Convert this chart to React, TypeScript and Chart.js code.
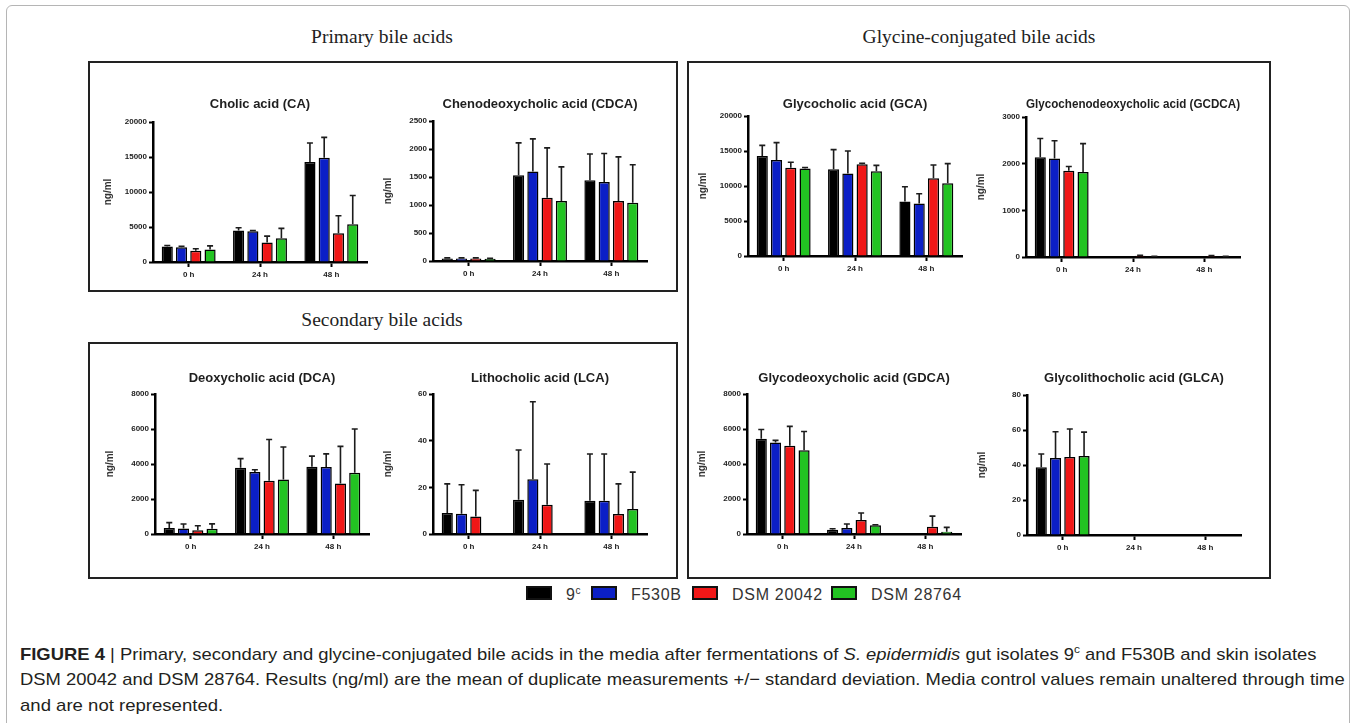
import React, { useEffect, useLayoutEffect, useRef, useState } from 'react';
import { Chart, registerables } from 'chart.js';

Chart.register(...registerables);

// ---------------- data ----------------
const timePoints = ['0 h', '24 h', '48 h'];
const strainNames = ['9c', 'F530B', 'DSM 20042', 'DSM 28764'];
const yAxisTitle = 'ng/ml';

// rows: 9c, F530B, DSM 20042, DSM 28764 ; columns: 0 h, 24 h, 48 h
const caMeans = [[2200, 4500, 14300], [2100, 4400, 14900], [1600, 2800, 4100], [1800, 3400, 5400]];
const caSds = [[150, 400, 2700], [150, 100, 2900], [300, 900, 2500], [500, 1400, 4100]];

const cdcaMeans = [[45, 1530, 1440], [45, 1600, 1410], [45, 1130, 1070], [40, 1070, 1040]];
const cdcaSds = [[10, 580, 470], [10, 580, 510], [10, 890, 790], [10, 610, 680]];

const dcaMeans = [[350, 3780, 3850], [320, 3550, 3830], [220, 3040, 2890], [300, 3120, 3500]];
const dcaSds = [[300, 530, 600], [250, 120, 750], [250, 2360, 2120], [280, 1850, 2500]];

const lcaMeans = [[9, 14.7, 14.2], [8.7, 23.5, 14.2], [7.5, 12.5, 8.6], [0, 0, 10.7]];
const lcaSds = [[12.5, 21.3, 20.1], [12.4, 33.2, 20.1], [11.2, 17.5, 12.9], [0, 0, 15.8]];

const gcaMeans = [[14300, 12400, 7800], [13700, 11800, 7500], [12600, 13100, 11100], [12500, 12100, 10400]];
const gcaSds = [[1500, 2800, 2100], [2500, 3200, 1400], [800, 150, 1900], [150, 850, 2800]];

const gcdcaMeans = [[2140, 0, 0], [2110, 0, 0], [1850, 25, 20], [1820, 10, 8]];
const gcdcaSds = [[400, 0, 0], [380, 0, 0], [90, 12, 10], [610, 5, 5]];

const gdcaMeans = [[5450, 250, 0], [5230, 350, 0], [5050, 800, 420], [4780, 500, 130]];
const gdcaSds = [[520, 50, 0], [120, 220, 0], [1100, 400, 600], [1080, 30, 250]];

const glcaMeans = [[38.7, 0.5, 0], [44, 0, 0], [44.6, 0, 0], [45.2, 0, 0]];
const glcaSds = [[7.6, 0, 0], [15, 0, 0], [16, 0, 0], [13.6, 0, 0]];

// ---------------- styles / layout ----------------
const strainColors = ['#000000', '#0b1fc6', '#f01717', '#22c322'];
const SANS = '"Liberation Sans", Arial, Helvetica, sans-serif';
const SERIF = '"Liberation Serif", "Times New Roman", serif';

const PW = 214; // plot width
const PH = 140; // plot height
const ML = 60;
const MR = 60;
const MT = 40;
const MB = 30;
const TITLE_SIZE = 13;

const panels = [
  { title: 'Cholic acid (CA)', means: caMeans, sds: caSds, max: 20000, step: 5000, x: 153, y: 122, titleY: 104 },
  { title: 'Chenodeoxycholic acid (CDCA)', means: cdcaMeans, sds: cdcaSds, max: 2500, step: 500, x: 433, y: 121, titleY: 104 },
  { title: 'Deoxycholic acid (DCA)', means: dcaMeans, sds: dcaSds, max: 8000, step: 2000, x: 155, y: 394, titleY: 378 },
  { title: 'Lithocholic acid (LCA)', means: lcaMeans, sds: lcaSds, max: 60, step: 20, x: 433, y: 394, titleY: 378 },
  { title: 'Glycocholic acid (GCA)', means: gcaMeans, sds: gcaSds, max: 20000, step: 5000, x: 748, y: 116, titleY: 104 },
  { title: 'Glycochenodeoxycholic acid (GCDCA)', means: gcdcaMeans, sds: gcdcaSds, max: 3000, step: 1000, x: 1026, y: 117, titleY: 104 },
  { title: 'Glycodeoxycholic acid (GDCA)', means: gdcaMeans, sds: gdcaSds, max: 8000, step: 2000, x: 747, y: 394, titleY: 378 },
  { title: 'Glycolithocholic acid (GLCA)', means: glcaMeans, sds: glcaSds, max: 80, step: 20, x: 1027, y: 395, titleY: 378 },
];

const errorBarPlugin = {
  id: 'errorBars',
  afterDatasetsDraw(chart: any) {
    const ctx = chart.ctx;
    const yScale = chart.scales.y;
    ctx.save();
    ctx.strokeStyle = '#1c1c1c';
    ctx.lineWidth = 1.6;
    chart.data.datasets.forEach((ds: any, i: number) => {
      const meta = chart.getDatasetMeta(i);
      meta.data.forEach((bar: any, j: number) => {
        const sd = ds.errors[j];
        if (!sd) return;
        const yTop = yScale.getPixelForValue(ds.data[j] + sd);
        ctx.beginPath();
        ctx.moveTo(bar.x, bar.y);
        ctx.lineTo(bar.x, yTop);
        ctx.moveTo(bar.x - 3, yTop);
        ctx.lineTo(bar.x + 3, yTop);
        ctx.stroke();
      });
    });
    ctx.restore();
  },
};

function BarPanel({ spec }: { spec: any }) {
  const ref = useRef<HTMLCanvasElement>(null);
  const W = ML + PW + MR;
  const H = MT + PH + MB;
  useEffect(() => {
    if (!ref.current) return;
    const lh = TITLE_SIZE * 1.2;
    const canvasTop = spec.y - MT;
    const padTop = spec.titleY - canvasTop - lh / 2;
    const padBottom = MT - lh - padTop;
    const tickFont = { family: SANS, size: 8, weight: 'bold' as const };
    const chart = new Chart(ref.current, {
      type: 'bar',
      data: {
        labels: timePoints,
        datasets: strainNames.map((name, i) => ({
          label: name,
          data: spec.means[i],
          errors: spec.sds[i],
          backgroundColor: strainColors[i],
          borderColor: '#000',
          borderWidth: 1.5,
          categoryPercentage: 0.8,
          barPercentage: 0.78,
        })) as any,
      },
      options: {
        responsive: false,
        animation: false,
        devicePixelRatio: 1,
        layout: { padding: { left: 0, right: MR, top: 0, bottom: 0 } },
        plugins: {
          legend: { display: false },
          tooltip: { enabled: false },
          title: {
            display: true,
            text: spec.title,
            fullSize: false,
            color: '#1e1e1e',
            font: { family: SANS, size: TITLE_SIZE, weight: 'bold' },
            padding: { top: padTop, bottom: padBottom },
          },
        },
        scales: {
          x: {
            type: 'category',
            offset: true,
            grid: { offset: false, drawOnChartArea: false, drawTicks: true, tickLength: 5, tickColor: '#000', tickWidth: 2 },
            border: { display: true, color: '#000', width: 2.5 },
            ticks: { font: tickFont, color: '#222', padding: 3, maxRotation: 0, autoSkip: false },
            afterFit: (s: any) => { s.height = MB; },
          },
          y: {
            min: 0,
            max: spec.max,
            grid: { drawOnChartArea: false, drawTicks: true, tickLength: 4, tickColor: '#000', tickWidth: 2 },
            border: { display: true, color: '#000', width: 2.5 },
            ticks: { stepSize: spec.step, font: tickFont, color: '#222', padding: 2, callback: (v: any) => String(v) },
            title: { display: true, text: yAxisTitle, color: '#333', font: { family: SANS, size: 10, weight: 'bold' }, padding: { top: 9, bottom: 0 } },
            afterFit: (s: any) => { s.width = ML; },
          },
        },
      } as any,
      plugins: [errorBarPlugin],
    });
    return () => chart.destroy();
  }, [spec]);
  return (
    <canvas
      ref={ref}
      width={W}
      height={H}
      style={{ position: 'absolute', left: spec.x - ML, top: spec.y - MT, width: W, height: H }}
    />
  );
}

function FitLine({ target, top, children }: { target: number; top: number; children: any }) {
  const ref = useRef<HTMLSpanElement>(null);
  const [sx, setSx] = useState(1);
  useLayoutEffect(() => {
    if (ref.current) {
      const w = ref.current.offsetWidth;
      if (w > 0) setSx(target / w);
    }
  }, [target]);
  return (
    <span
      ref={ref}
      style={{
        position: 'absolute', left: 20, top, whiteSpace: 'nowrap', display: 'inline-block',
        transform: `scaleX(${sx})`, transformOrigin: '0 0', fontSize: 17, lineHeight: '25px', color: '#231f20',
        fontFamily: SANS,
      }}
    >
      {children}
    </span>
  );
}

const legendLefts = [526, 591, 692, 831];

function strainLabel(name: string) {
  if (name === '9c') return <>9<sup style={{ fontSize: 10, lineHeight: 0, verticalAlign: 6 }}>c</sup></>;
  return name;
}

function Heading({ text, cx, baseline }: { text: string; cx: number; baseline: number }) {
  const fs = 19.5;
  return (
    <div style={{ position: 'absolute', left: cx - 200, width: 400, top: baseline - 0.8375 * fs, textAlign: 'center', fontFamily: SERIF, fontSize: fs, lineHeight: 1, color: '#222' }}>
      {text}
    </div>
  );
}

const boxStyle = (l: number, t: number, r: number, b: number) => ({
  position: 'absolute' as const, left: l, top: t, width: r - l, height: b - t, border: '2px solid #222', boxSizing: 'border-box' as const,
});

export default function App() {
  return (
    <div style={{ position: 'absolute', left: 0, top: 0, width: 1360, height: 723, overflow: 'hidden', background: '#fff', fontFamily: SANS }}>
      <div style={{ position: 'absolute', left: 6, top: 5, width: 1344, height: 780, border: '1px solid #b5b5b5', borderRadius: 6, boxSizing: 'border-box' }} />
      <Heading text="Primary bile acids" cx={382} baseline={43} />
      <Heading text="Glycine-conjugated bile acids" cx={979} baseline={43} />
      <Heading text="Secondary bile acids" cx={382} baseline={326} />
      <div style={boxStyle(88, 61, 678, 292)} />
      <div style={boxStyle(88, 342, 678, 579)} />
      <div style={boxStyle(687, 61, 1271, 579)} />
      {panels.map((p) => <BarPanel key={p.title} spec={p} />)}
      {strainNames.map((name, i) => (
        <React.Fragment key={name}>
          <div style={{ position: 'absolute', left: legendLefts[i], top: 586, width: 26, height: 14, background: strainColors[i], border: '2px solid #111', boxSizing: 'border-box' }} />
          <div style={{ position: 'absolute', left: legendLefts[i] + 40, top: 586.5, fontSize: 16, lineHeight: 1, letterSpacing: 0.7, color: '#333', whiteSpace: 'nowrap' }}>
            {strainLabel(name)}
          </div>
        </React.Fragment>
      ))}
      <FitLine target={1296} top={642}>
        <b>FIGURE 4</b> <span style={{ fontWeight: 300 }}>|</span> Primary, secondary and glycine-conjugated bile acids in the media after fermentations of <i>S. epidermidis</i> gut isolates 9<sup style={{ fontSize: 11, lineHeight: 0 }}>c</sup> and F530B and skin isolates
      </FitLine>
      <FitLine target={1325} top={667.3}>
        DSM 20042 and DSM 28764. Results (ng/ml) are the mean of duplicate measurements +/− standard deviation. Media control values remain unaltered through time
      </FitLine>
      <FitLine target={203} top={692.6}>
        and are not represented.
      </FitLine>
    </div>
  );
}
